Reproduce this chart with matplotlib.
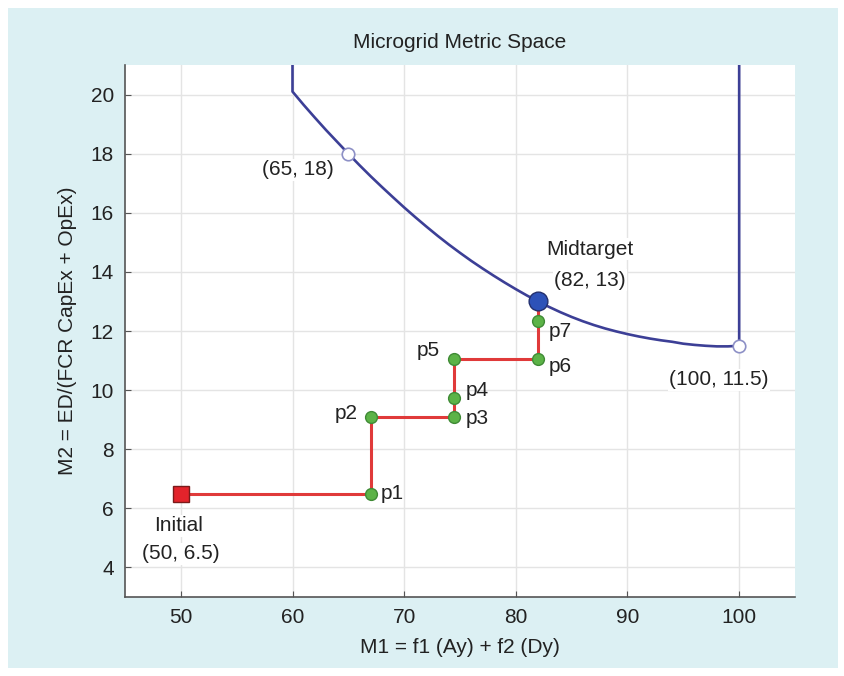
import matplotlib.pyplot as plt
from matplotlib.patches import Rectangle

plt.rcParams['font.family'] = ['Liberation Sans', 'DejaVu Sans']

# boundary curve of the metric space
curve_x = [60, 60, 61, 62, 63, 64, 65, 66, 67, 68, 69, 70, 71, 72, 73, 74, 75, 76, 77, 78, 79, 80,
           81, 82, 83, 84, 85, 86, 87, 88, 89, 90, 91, 92, 93, 94, 95, 96, 97, 98, 99, 100, 100]
curve_y = [21.2, 20.1, 19.65, 19.22, 18.8, 18.4, 18.0, 17.61, 17.235, 16.875, 16.525, 16.18,
           15.85, 15.53, 15.22, 14.925, 14.645, 14.375, 14.12, 13.875, 13.64, 13.415, 13.2, 13.0,
           12.81, 12.635, 12.475, 12.33, 12.2, 12.085, 11.985, 11.895, 11.815, 11.745, 11.685,
           11.635, 11.57, 11.53, 11.5, 11.48, 11.48, 11.5, 21.2]

# path from initial point to midtarget
path_x = [50, 67, 67, 74.5, 74.5, 74.5, 82, 82, 82]
path_y = [6.5, 6.5, 9.1, 9.1, 9.75, 11.05, 11.05, 12.35, 13.0]

step_names = ['p1', 'p2', 'p3', 'p4', 'p5', 'p6', 'p7']
step_x = path_x[1:8]
step_y = path_y[1:8]

initial = (50, 6.5)
midtarget = (82, 13)
corners = [(65, 18), (100, 11.5)]

# label offsets in pixels (style only)
step_offsets = {'p1': (10, 0, 'left'), 'p2': (-13, 3, 'right'), 'p3': (11, -2, 'left'),
                'p4': (11, 7, 'left'), 'p5': (-15, 9, 'right'), 'p6': (11, -7, 'left'),
                'p7': (11, -11, 'left')}

fig = plt.figure(figsize=(8.45, 6.76), dpi=100, facecolor='white')
fig.patches.append(Rectangle((8 / 845, 8 / 676), 830 / 845, 660 / 676, transform=fig.transFigure,
                             facecolor='#dcf0f3', edgecolor='none', zorder=-1))
ax = fig.add_axes([125 / 845, 1 - 597 / 676, 670 / 845, 532 / 676])
ax.set_facecolor('white')

ax.plot(curve_x, curve_y, color='#3c3f96', lw=1.9, zorder=3)
ax.plot(path_x, path_y, color='#e03a3a', lw=2.2, zorder=4)
ax.plot(step_x, step_y, 'o', ms=8.5, mfc='#5cb347', mec='#3f8a35', mew=1, zorder=5)
ax.plot(*initial, 's', ms=11, mfc='#e3232b', mec='#7a1a1a', mew=1, zorder=5)
ax.plot(*midtarget, 'o', ms=13.5, mfc='#2d52b8', mec='#23306e', mew=1, zorder=6)
for cx, cy in corners:
    ax.plot(cx, cy, 'o', ms=9, mfc='white', mec='#8d90c6', mew=1.2, zorder=5)

box = dict(facecolor='white', edgecolor='none', pad=1)
fs = 15

for name, sx, sy in zip(step_names, step_x, step_y):
    dx, dy, ha = step_offsets[name]
    ax.annotate(name, (sx, sy), xytext=(dx, dy), textcoords='offset pixels',
                ha=ha, va='center', fontsize=fs, color='#222222', zorder=7)

ax.annotate('Midtarget', midtarget, xytext=(52, 52), textcoords='offset pixels',
            ha='center', va='center', fontsize=fs, color='#222222', bbox=box, zorder=7)
ax.annotate('(%d, %d)' % midtarget, midtarget, xytext=(52, 21), textcoords='offset pixels',
            ha='center', va='center', fontsize=fs, color='#222222', bbox=box, zorder=7)
ax.annotate('(%d, %d)' % corners[0], corners[0], xytext=(-50, -16), textcoords='offset pixels',
            ha='center', va='center', fontsize=fs, color='#222222', bbox=box, zorder=7)
ax.annotate('(%d, %.1f)' % corners[1], corners[1], xytext=(-20, -34), textcoords='offset pixels',
            ha='center', va='center', fontsize=fs, color='#222222', bbox=box, zorder=7)
ax.annotate('Initial', initial, xytext=(-2, -32), textcoords='offset pixels',
            ha='center', va='center', fontsize=fs, color='#222222', bbox=box, zorder=7)
ax.annotate('(%d, %.1f)' % initial, initial, xytext=(0, -60), textcoords='offset pixels',
            ha='center', va='center', fontsize=fs, color='#222222', bbox=box, zorder=7)

ax.set_xlim(45, 105)
ax.set_ylim(3, 21)
ax.set_xticks([50, 60, 70, 80, 90, 100])
ax.set_yticks([4, 6, 8, 10, 12, 14, 16, 18, 20])
ax.grid(True, color='#e4e4e4', lw=1)
ax.set_axisbelow(True)
for s in ['top', 'right']:
    ax.spines[s].set_visible(False)
for s in ['left', 'bottom']:
    ax.spines[s].set_color('#555555')
    ax.spines[s].set_linewidth(1.2)
ax.tick_params(direction='in', length=4, color='#555555', labelsize=fs, labelcolor='#222222', pad=8)

ax.set_title('Microgrid Metric Space', fontsize=fs, color='#222222', pad=12)
ax.set_xlabel('M1 = f1 (Ay) + f2 (Dy)', fontsize=fs, color='#222222', labelpad=8)
ax.set_ylabel('M2 = ED/(FCR CapEx + OpEx)', fontsize=fs, color='#222222', labelpad=10)

fig.savefig('out.png', dpi=100, facecolor=fig.get_facecolor())
